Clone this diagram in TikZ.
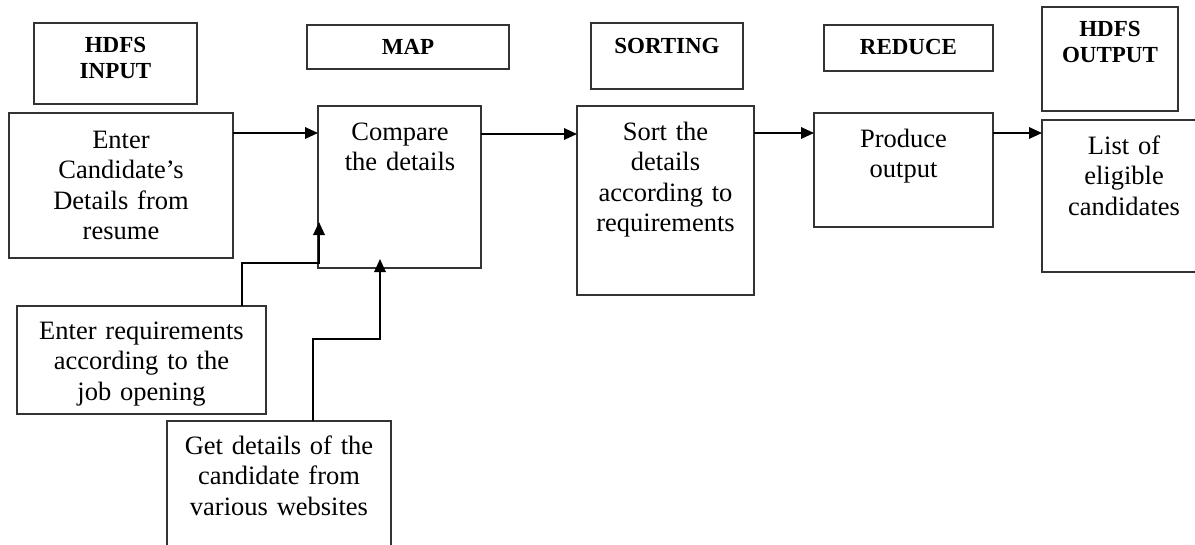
\documentclass[tikz,border=0pt]{standalone}
\usepackage{fontspec}
\setmainfont{Liberation Serif}
\usetikzlibrary{arrows.meta}
\begin{document}
\begin{tikzpicture}[x=1pt,y=-1pt,
  boxst/.style={draw=black!80, line width=1.2pt, rectangle, inner sep=0pt, outer sep=0pt, anchor=north west},
  hdr/.style={font=\fontsize{23}{26.5}\selectfont\bfseries, anchor=base, align=center, inner sep=0pt, text width=200pt},
  body/.style={font=\fontsize{26.5}{30.5}\selectfont, anchor=base, align=center, inner sep=0pt, text width=260pt},
  conn/.style={draw=black, line width=1.8pt},
  arr/.style={conn, -{Triangle[length=13pt,width=11.5pt]}}
]
\useasboundingbox (0,0) rectangle (1195,544);
\clip (0,0) rectangle (1195,544);
\fill[white] (0,0) rectangle (1195,544);

% header boxes
\node[boxst, minimum width=163pt, minimum height=81pt] (hin) at (34,23) {};
\node[boxst, minimum width=202pt, minimum height=44pt] (hmap) at (307,25) {};
\node[boxst, minimum width=152pt, minimum height=66pt] (hsort) at (591,23) {};
\node[boxst, minimum width=169pt, minimum height=46pt] (hred) at (824,25) {};
\node[boxst, minimum width=136pt, minimum height=104pt] (hout) at (1042,7) {};

\node[hdr] (thin) at (115.5,52) {HDFS\\INPUT};
\node[hdr] (thmap) at (408,54) {MAP};
\node[hdr] (thsort) at (667,53) {SORTING};
\node[hdr] (thred) at (908.5,54) {REDUCE};
\node[hdr] (thout) at (1110,36) {HDFS\\OUTPUT};

% process boxes
\node[boxst, minimum width=224pt, minimum height=145pt] (enter) at (9,113) {};
\node[boxst, minimum width=163pt, minimum height=162pt] (cmp) at (318,106) {};
\node[boxst, minimum width=177pt, minimum height=189pt] (sort) at (577,106) {};
\node[boxst, minimum width=179pt, minimum height=114pt] (prod) at (814,113) {};
\node[boxst, minimum width=164pt, minimum height=152pt] (list) at (1042,120) {};
\node[boxst, minimum width=249pt, minimum height=108pt] (req) at (17,306) {};
\node[boxst, minimum width=224pt, minimum height=130pt] (web) at (167,421) {};

\node[body] (tenter) at (121,148) {Enter\\Candidate’s\\Details from\\resume};
\node[body] (tcmp) at (400,140) {Compare\\the details};
\node[body] (tsort) at (665.5,140) {Sort the\\details\\according to\\requirements};
\node[body] (tprod) at (903.5,147) {Produce\\output};
\node[body] (tlist) at (1124,154) {List of\\eligible\\candidates};
\node[body] (treq) at (141.5,339) {Enter requirements\\according to the\\job opening};
\node[body] (tweb) at (279,454) {Get details of the\\candidate from\\various websites};

% connectors
\coordinate (row) at (0,133);
\coordinate (row2) at (0,134);
\draw[arr] (enter.east |- row) -- (cmp.west |- row);
\draw[arr] (cmp.east |- row2) -- (sort.west |- row2);
\draw[arr] (sort.east |- row) -- (prod.west |- row);
\draw[arr] (prod.east |- row) -- (list.west |- row);

\coordinate (r1) at (242,263);
\coordinate (r2) at (319,263);
\coordinate (r3) at (319,222);
\draw[arr] (r1 |- req.north) -- (r1) -- (r2) -- (r3);

\coordinate (g1) at (313,339);
\coordinate (g2) at (380,339);
\coordinate (g3) at (380,259);
\draw[arr] (g1 |- web.north) -- (g1) -- (g2) -- (g3);
\end{tikzpicture}
\end{document}
